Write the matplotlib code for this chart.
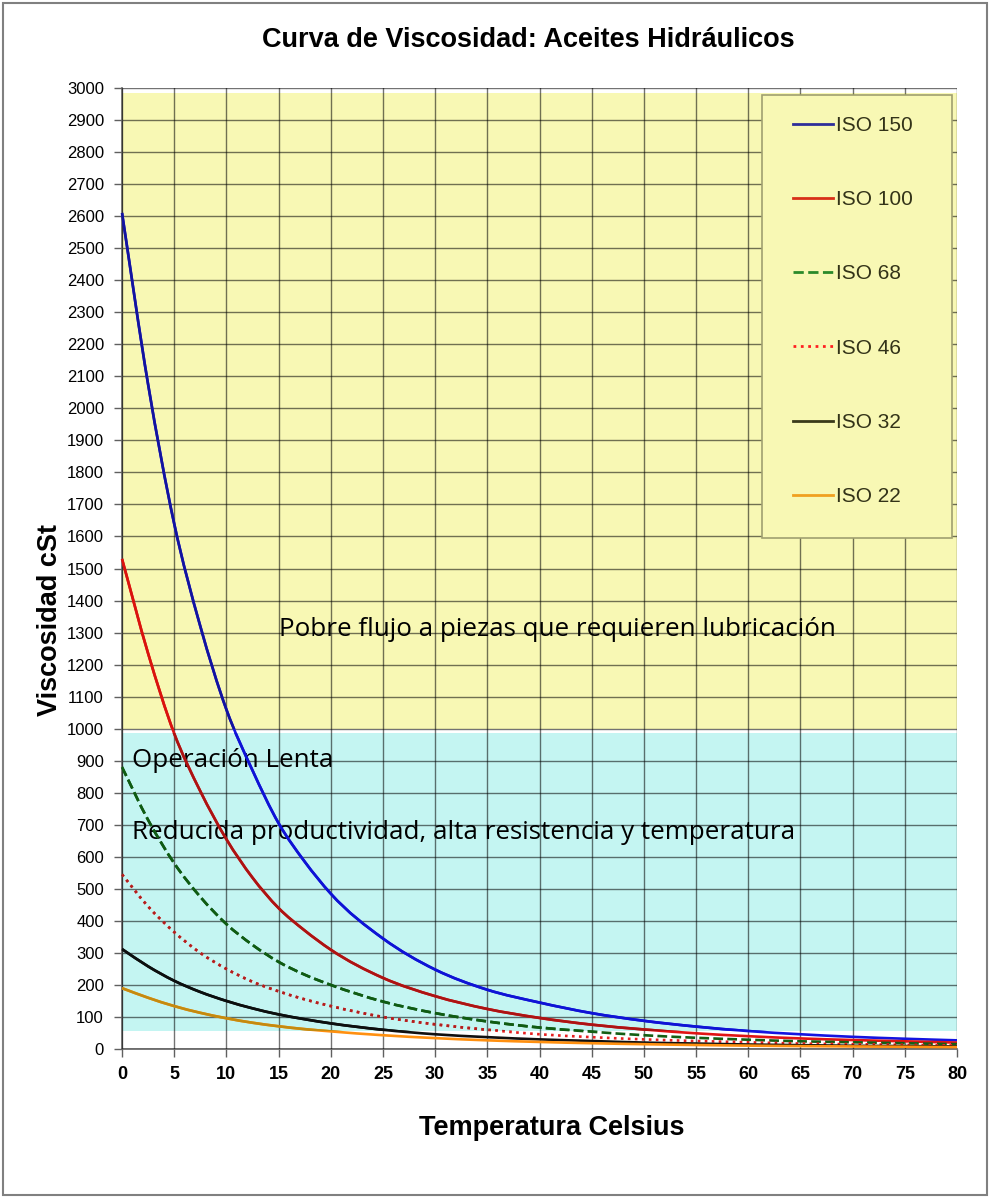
import numpy as np
import matplotlib
matplotlib.use('Agg')
import matplotlib.pyplot as plt
from matplotlib.patches import Rectangle, PathPatch
from matplotlib.path import Path
from matplotlib.lines import Line2D
from matplotlib import colors as mcolors

# temperatures (C) and viscosities (cSt)
temp = [0, 2.5, 5, 7.5, 10, 12.5, 15, 17.5, 20, 25, 30, 35, 40, 45, 50, 55, 60, 65, 70, 75, 80]
iso150 = [2610, 2075, 1640, 1320, 1060, 870, 705, 585, 485, 345, 248, 185, 145, 112, 88, 70, 56, 46, 38, 32, 27]
iso100 = [1530, 1235, 985, 805, 655, 535, 440, 370, 310, 222, 165, 125, 97, 76, 61, 49, 40, 33, 28, 24, 20]
iso68 = [880, 715, 580, 475, 390, 325, 272, 232, 200, 148, 112, 86, 67, 54, 43, 35, 29, 24, 21, 18, 15]
iso46 = [545, 445, 365, 300, 250, 210, 180, 155, 134, 100, 77, 60, 46, 37, 30, 25, 21, 17, 15, 13, 11]
iso32 = [312, 258, 213, 178, 150, 127, 108, 93, 80, 60, 46, 37, 30, 25, 20, 17, 14, 12, 10, 9, 8]
iso22 = [190, 160, 134, 113, 96, 82, 71, 62, 55, 43, 34, 27, 22, 18, 15, 12.5, 10.5, 9, 8, 7, 6]

labels = ['ISO 150', 'ISO 100', 'ISO 68', 'ISO 46', 'ISO 32', 'ISO 22']
series = [iso150, iso100, iso68, iso46, iso32, iso22]
base_colors = ['#1414e0', '#e01414', '#145f14', '#e62020', '#101010', '#ff9010']
legend_colors = ['#2e2e9a', '#d83018', '#2a8a2a', '#ff2020', '#3a3a1a', '#f0a020']
styles = ['-', '-', '--', ':', '-', '-']

YELLOW = '#f8f8b4'
CYAN = '#c4f5f2'

cond = ['Liberation Sans Narrow', 'Liberation Sans', 'DejaVu Sans']
body = ['Open Sans', 'DejaVu Sans']


def mult(c1, c2):
    a = np.array(mcolors.to_rgb(c1))
    b = np.array(mcolors.to_rgb(c2))
    return tuple(a * b)


def smooth_path(x, y):
    # smoothed line through the points (cubic Hermite as bezier segments)
    x = np.asarray(x, float)
    y = np.asarray(y, float)
    m = np.gradient(y, x)
    verts = [(x[0], y[0])]
    codes = [Path.MOVETO]
    for i in range(len(x) - 1):
        h = x[i + 1] - x[i]
        verts += [(x[i] + h / 3, y[i] + m[i] * h / 3),
                  (x[i + 1] - h / 3, y[i + 1] - m[i + 1] * h / 3),
                  (x[i + 1], y[i + 1])]
        codes += [Path.CURVE4] * 3
    return Path(verts, codes)


fig = plt.figure(figsize=(9.9, 11.98), dpi=100)
ax = fig.add_axes([122 / 990, 1 - 1049 / 1198, (957 - 122) / 990, (1049 - 88) / 1198])

# background zones
ax.add_patch(Rectangle((0, 1000), 80, 1985, facecolor=YELLOW, edgecolor='none', zorder=0))
ax.add_patch(Rectangle((0, 55), 80, 930, facecolor=CYAN, edgecolor='none', zorder=0))

ax.set_xlim(0, 80)
ax.set_ylim(0, 3000)
ax.set_xticks(np.arange(0, 81, 5))
ax.set_yticks(np.arange(0, 3001, 100))
ax.grid(True, color='black', alpha=0.55, linewidth=1.0, zorder=1)
ax.set_axisbelow(False)

for s in ['top', 'right']:
    ax.spines[s].set_visible(False)
for s in ['left', 'bottom']:
    ax.spines[s].set_color('#606060')
    ax.spines[s].set_linewidth(1.2)

ax.tick_params(axis='y', direction='out', length=6, width=1, color='#606060', pad=7, labelsize=12)
ax.tick_params(axis='x', direction='out', length=6, width=1, color='#606060', pad=6, labelsize=13)
for t in ax.get_yticklabels():
    t.set_family(cond)
for t in ax.get_xticklabels():
    t.set_family(cond)
    t.set_fontweight('bold')

# curves, tinted by the zone they cross
zones = [(YELLOW, 1000, 2100), (CYAN, 55, 930)]
for vals, c, ls in zip(series, base_colors, styles):
    path = smooth_path(temp, vals)
    ax.add_patch(PathPatch(path, facecolor='none', edgecolor=c, linestyle=ls,
                           linewidth=1.9, zorder=3))
    for zc, lo, h in zones:
        pp = PathPatch(path, facecolor='none', edgecolor=mult(c, zc), linestyle=ls,
                       linewidth=1.9, zorder=4)
        ax.add_patch(pp)
        pp.set_clip_path(Rectangle((-1, lo), 82, h, transform=ax.transData))

# zone texts
ax.text(15, 1310, 'Pobre flujo a piezas que requieren lubricación', fontsize=18.7,
        family=body, va='center', ha='left', zorder=2)
ax.text(1, 900, 'Operación Lenta', fontsize=18.7, family=body, va='center', ha='left', zorder=2)
ax.text(1, 675, 'Reducida productividad, alta resistencia y temperatura', fontsize=18.7,
        family=body, va='center', ha='left', zorder=2)

# legend box and entries
fig.patches.append(Rectangle((762 / 990, 1 - 538 / 1198), 190 / 990, 443 / 1198,
                             transform=fig.transFigure, facecolor=YELLOW,
                             edgecolor='#a0a070', linewidth=1.2, zorder=5))
handles = [Line2D([0], [0], color=lc, linestyle=ls, linewidth=2.0)
           for lc, ls in zip(legend_colors, styles)]
leg = fig.legend(handles, labels, loc='upper left', bbox_to_anchor=(793 / 990, 1 - 116 / 1198),
                 frameon=False, labelspacing=2.65, handlelength=1.9, handletextpad=0.15,
                 borderpad=0, borderaxespad=0, prop={'family': cond[1:], 'size': 15})
for t in leg.get_texts():
    t.set_color('#333318')
leg.set_zorder(6)

fig.text(528 / 990, 1 - 40 / 1198, 'Curva de Viscosidad: Aceites Hidráulicos', fontsize=19.5,
         fontweight='bold', family=cond, ha='center', va='center')
fig.text(552 / 990, 1 - 1128 / 1198, 'Temperatura Celsius', fontsize=19.5, fontweight='bold',
         family=cond, ha='center', va='center')
fig.text(50 / 990, 1 - 620 / 1198, 'Viscosidad cSt', fontsize=19.5, fontweight='bold',
         family=cond, ha='center', va='center', rotation=90)

# outer frame
fig.patches.append(Rectangle((3 / 990, 3 / 1198), 984 / 990, 1192 / 1198, transform=fig.transFigure,
                             facecolor='none', edgecolor='#808080', linewidth=1.5))

fig.savefig('out.png', dpi=100)
